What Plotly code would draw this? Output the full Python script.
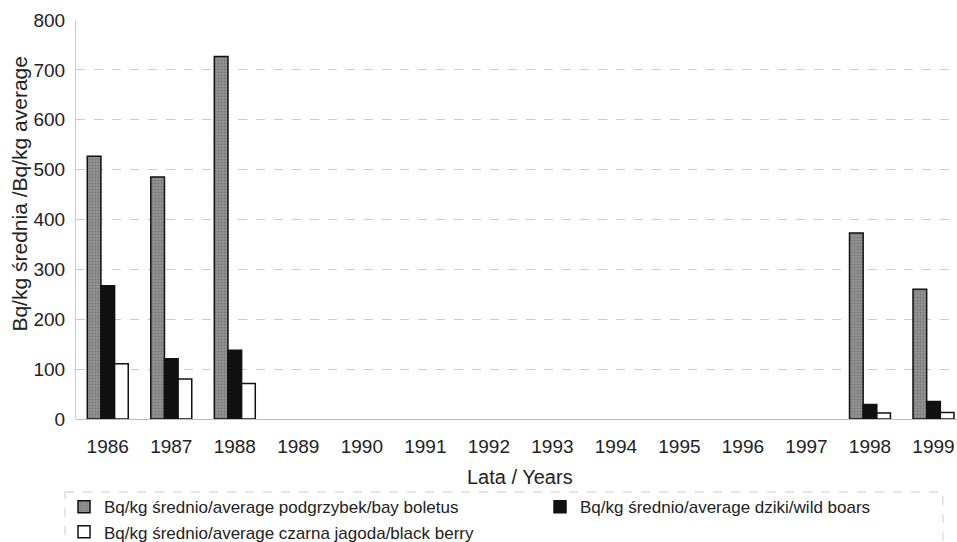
import plotly.graph_objects as go

# Years on the category axis
years = ["1986", "1987", "1988", "1989", "1990", "1991", "1992",
         "1993", "1994", "1995", "1996", "1997", "1998", "1999"]

# Average activity, Bq/kg (no measurements 1989-1997)
bay_boletus = [527, 485, 727, None, None, None, None, None, None, None, None, None, 373, 260]
wild_boars = [267, 121, 138, None, None, None, None, None, None, None, None, None, 29, 35]
black_berry = [111, 80, 71, None, None, None, None, None, None, None, None, None, 12, 13]

series_names = [
    "Bq/kg średnio/average podgrzybek/bay boletus",
    "Bq/kg średnio/average dziki/wild boars",
    "Bq/kg średnio/average czarna jagoda/black berry",
]
y_ticks = [0, 100, 200, 300, 400, 500, 600, 700, 800]

FONT = "Liberation Sans, Arial, sans-serif"

fig = go.Figure()
fig.add_trace(go.Bar(
    x=years, y=bay_boletus, name=series_names[0],
    marker=dict(color="#8a8a8a", line=dict(color="#111111", width=1.5),
                pattern=dict(shape=".", fgcolor="#555555", bgcolor="#959595",
                             size=3, solidity=0.4)),
))
fig.add_trace(go.Bar(
    x=years, y=wild_boars, name=series_names[1],
    marker=dict(color="#111111", line=dict(color="#111111", width=1.5)),
))
fig.add_trace(go.Bar(
    x=years, y=black_berry, name=series_names[2],
    marker=dict(color="#ffffff", line=dict(color="#111111", width=1.5)),
))

fig.update_layout(
    width=957, height=542,
    margin=dict(l=76, r=0, t=20, b=123, autoexpand=False),
    paper_bgcolor="white", plot_bgcolor="white",
    barmode="group", bargap=0.355, bargroupgap=0,
    font=dict(family=FONT, size=19, color="#222222"),
    showlegend=True,
    legend=dict(
        orientation="h", x=-0.0136, xanchor="left", y=-0.176, yanchor="top",
        entrywidth=431, entrywidthmode="pixels",
        font=dict(size=17), borderwidth=0, bgcolor="rgba(0,0,0,0)",
        tracegroupgap=0,
    ),
    xaxis=dict(
        type="category", range=[-0.5, 13.37],
        showgrid=False, showline=False, zeroline=False,
        ticks="", tickfont=dict(size=19), ticklabelstandoff=14,
    ),
    yaxis=dict(
        range=[0, 800], tickvals=y_ticks,
        showgrid=True, gridcolor="#cccccc", griddash="dash", gridwidth=1,
        zeroline=True, zerolinecolor="#bbbbbb", zerolinewidth=1,
        showline=True, linecolor="#cccccc", linewidth=1,
        ticks="", tickfont=dict(size=19), ticklabelstandoff=6,
    ),
    shapes=[
        # legend frame
        dict(type="rect", xref="paper", yref="paper",
             x0=-0.0125, x1=0.984, y0=-0.183, y1=-0.36,
             line=dict(color="#cccccc", width=1, dash="dash"),
             fillcolor="rgba(0,0,0,0)", layer="below"),
    ],
    annotations=[
        dict(text="Lata / Years", xref="paper", yref="paper",
             x=0.504, y=-0.145, xanchor="center", yanchor="middle",
             showarrow=False, font=dict(size=20)),
        dict(text="Bq/kg średnia /Bq/kg average", xref="paper", yref="paper",
             x=-0.064, y=0.564, xanchor="center", yanchor="middle", textangle=-90,
             showarrow=False, font=dict(size=21)),
    ],
)

fig.write_html("out.html")
